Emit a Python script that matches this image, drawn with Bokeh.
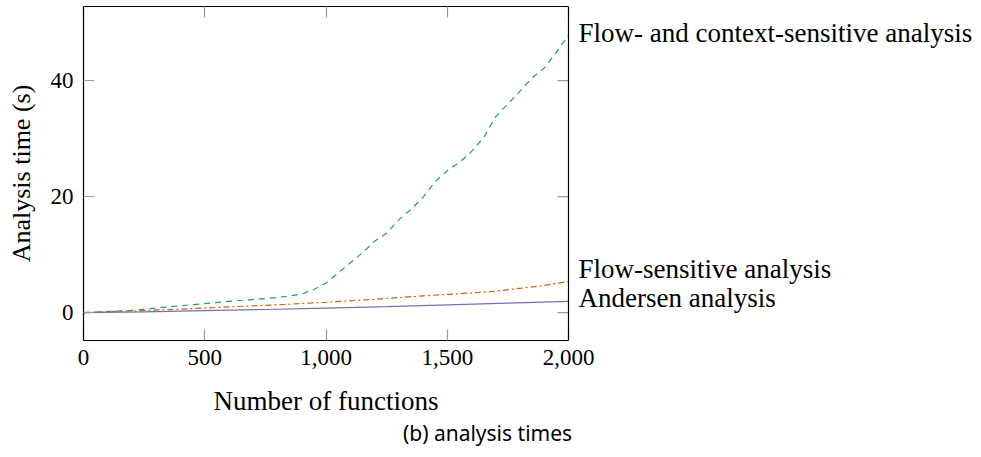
import math
from bokeh.plotting import figure
from bokeh.models import Label, LinearAxis, FixedTicker, NumeralTickFormatter, Range1d, Span
from bokeh.core.properties import value
from bokeh.embed import file_html
from bokeh.resources import INLINE

# ---- data ----
ctx_x = [0, 200, 400, 600, 800, 900, 950, 1000, 1050, 1100, 1150, 1200, 1250, 1300, 1350, 1400,
         1450, 1500, 1550, 1600, 1650, 1700, 1750, 1800, 1850, 1900, 1950, 2000]
ctx_y = [0.0, 0.4, 1.2, 1.95, 2.6, 3.2, 4.0, 5.1, 6.8, 8.6, 10.3, 12.3, 13.7, 16.0, 17.8, 19.9,
         22.6, 24.5, 25.9, 27.8, 30.2, 33.8, 36.0, 38.2, 40.5, 42.2, 44.9, 47.9]

flow_x = [0, 200, 400, 600, 800, 1000, 1200, 1400, 1600, 1700, 1800, 1900, 2000]
flow_y = [0.0, 0.3, 0.6, 1.0, 1.35, 1.8, 2.3, 2.9, 3.4, 3.7, 4.2, 4.7, 5.4]

and_x = [0, 250, 500, 750, 1000, 1250, 1500, 1750, 2000]
and_y = [0.0, 0.15, 0.35, 0.55, 0.8, 1.05, 1.35, 1.65, 1.95]

series_names = ["Flow- and context-sensitive analysis", "Flow-sensitive analysis", "Andersen analysis"]
x_ticks = [0, 500, 1000, 1500, 2000]
y_ticks = [0, 20, 40]
x_min, x_max = 0, 2000
x_label = "Number of functions"
y_label = "Analysis time (s)"
caption = "(b) analysis times"

# ---- layout constants ----
W, H = 981, 457
LEFT, AXIS_W, TOP, BOTTOM = 83, 485, 6, 117
SERIF = "Liberation Serif"
FS = "27px"
YFS = "26px"
TFS = "23px"
TICK = "#9a9a9a"

# the frame extends to the right edge so the curve labels are not clipped;
# the axes themselves are bounded to [x_min, x_max]
x_end = x_min + (x_max - x_min) * (W - LEFT) / AXIS_W

p = figure(width=W, height=H, output_backend="svg", toolbar_location=None,
           x_range=Range1d(x_min, x_end), y_range=Range1d(-4.8, 52.8),
           min_border_left=LEFT, min_border_right=0, min_border_top=TOP, min_border_bottom=BOTTOM)
p.grid.visible = False
p.outline_line_color = None

def style_axis(ax, ticks, show_labels):
    ax.ticker = FixedTicker(ticks=ticks)
    ax.minor_tick_line_color = None
    ax.major_tick_in = 11
    ax.major_tick_out = 0
    ax.major_tick_line_color = TICK
    ax.major_tick_line_width = 1.2
    ax.axis_line_color = "black"
    ax.axis_line_width = 1.2
    if show_labels:
        ax.major_label_text_font = SERIF
        ax.major_label_text_font_size = TFS
        ax.major_label_text_color = "black"
        ax.axis_label_text_font = SERIF
        ax.axis_label_text_font_size = YFS
        ax.axis_label_text_font_style = "normal"
        ax.axis_label_text_color = "black"
    else:
        ax.major_label_overrides = {t: "" for t in ticks}
        ax.major_label_standoff = 0

xa = p.xaxis[0]
ya = p.yaxis[0]
style_axis(xa, x_ticks, True)
style_axis(ya, y_ticks, True)
xa.bounds = (x_min, x_max)
xa.formatter = NumeralTickFormatter(format="0,0")
ya.axis_label = y_label
xa.major_label_standoff = 9
ya.major_label_standoff = 10
ya.axis_label_standoff = 12

top = LinearAxis()
style_axis(top, x_ticks, False)
top.bounds = (x_min, x_max)
p.add_layout(top, "above")

# right frame edge with inward ticks
p.add_layout(Span(location=x_max, dimension="height", line_color="black", line_width=1.2))
p.ray(x=[x_max] * len(y_ticks), y=y_ticks, length=11, length_units="screen", angle=math.pi,
      line_color=TICK, line_width=1.2)

p.line(ctx_x, ctx_y, line_color="#1b9e77", line_width=1.2, line_dash="6 5")
p.line(flow_x, flow_y, line_color="#d95f02", line_width=1.2, line_dash="6 3 2 3")
p.line(and_x, and_y, line_color="#7570b3", line_width=1.2)

p.text(x=[ctx_x[-1], flow_x[-1], and_x[-1]], y=[ctx_y[-1], flow_y[-1], and_y[-1]],
       text=series_names, x_offset=10, y_offset=[-2, -12, -3],
       text_font=value(SERIF), text_font_size=value(FS), text_baseline="middle",
       text_align="left", text_color="black")

# x-axis title and caption in the panel below, centred under the bounded axis
p.add_layout(Label(x=AXIS_W / 2, y=-12, x_units="screen", y_units="screen", text=x_label,
                   text_font=SERIF, text_font_size=FS, text_align="center",
                   text_baseline="bottom", text_color="black", y_offset=-6), "below")
p.add_layout(Label(x=404, y=-21, x_units="screen", y_units="screen", text=caption,
                   text_font="Noto Sans", text_font_size="21px", text_align="center",
                   text_baseline="bottom", text_color="black"), "below")

open("out.html", "w").write(file_html(p, INLINE))
